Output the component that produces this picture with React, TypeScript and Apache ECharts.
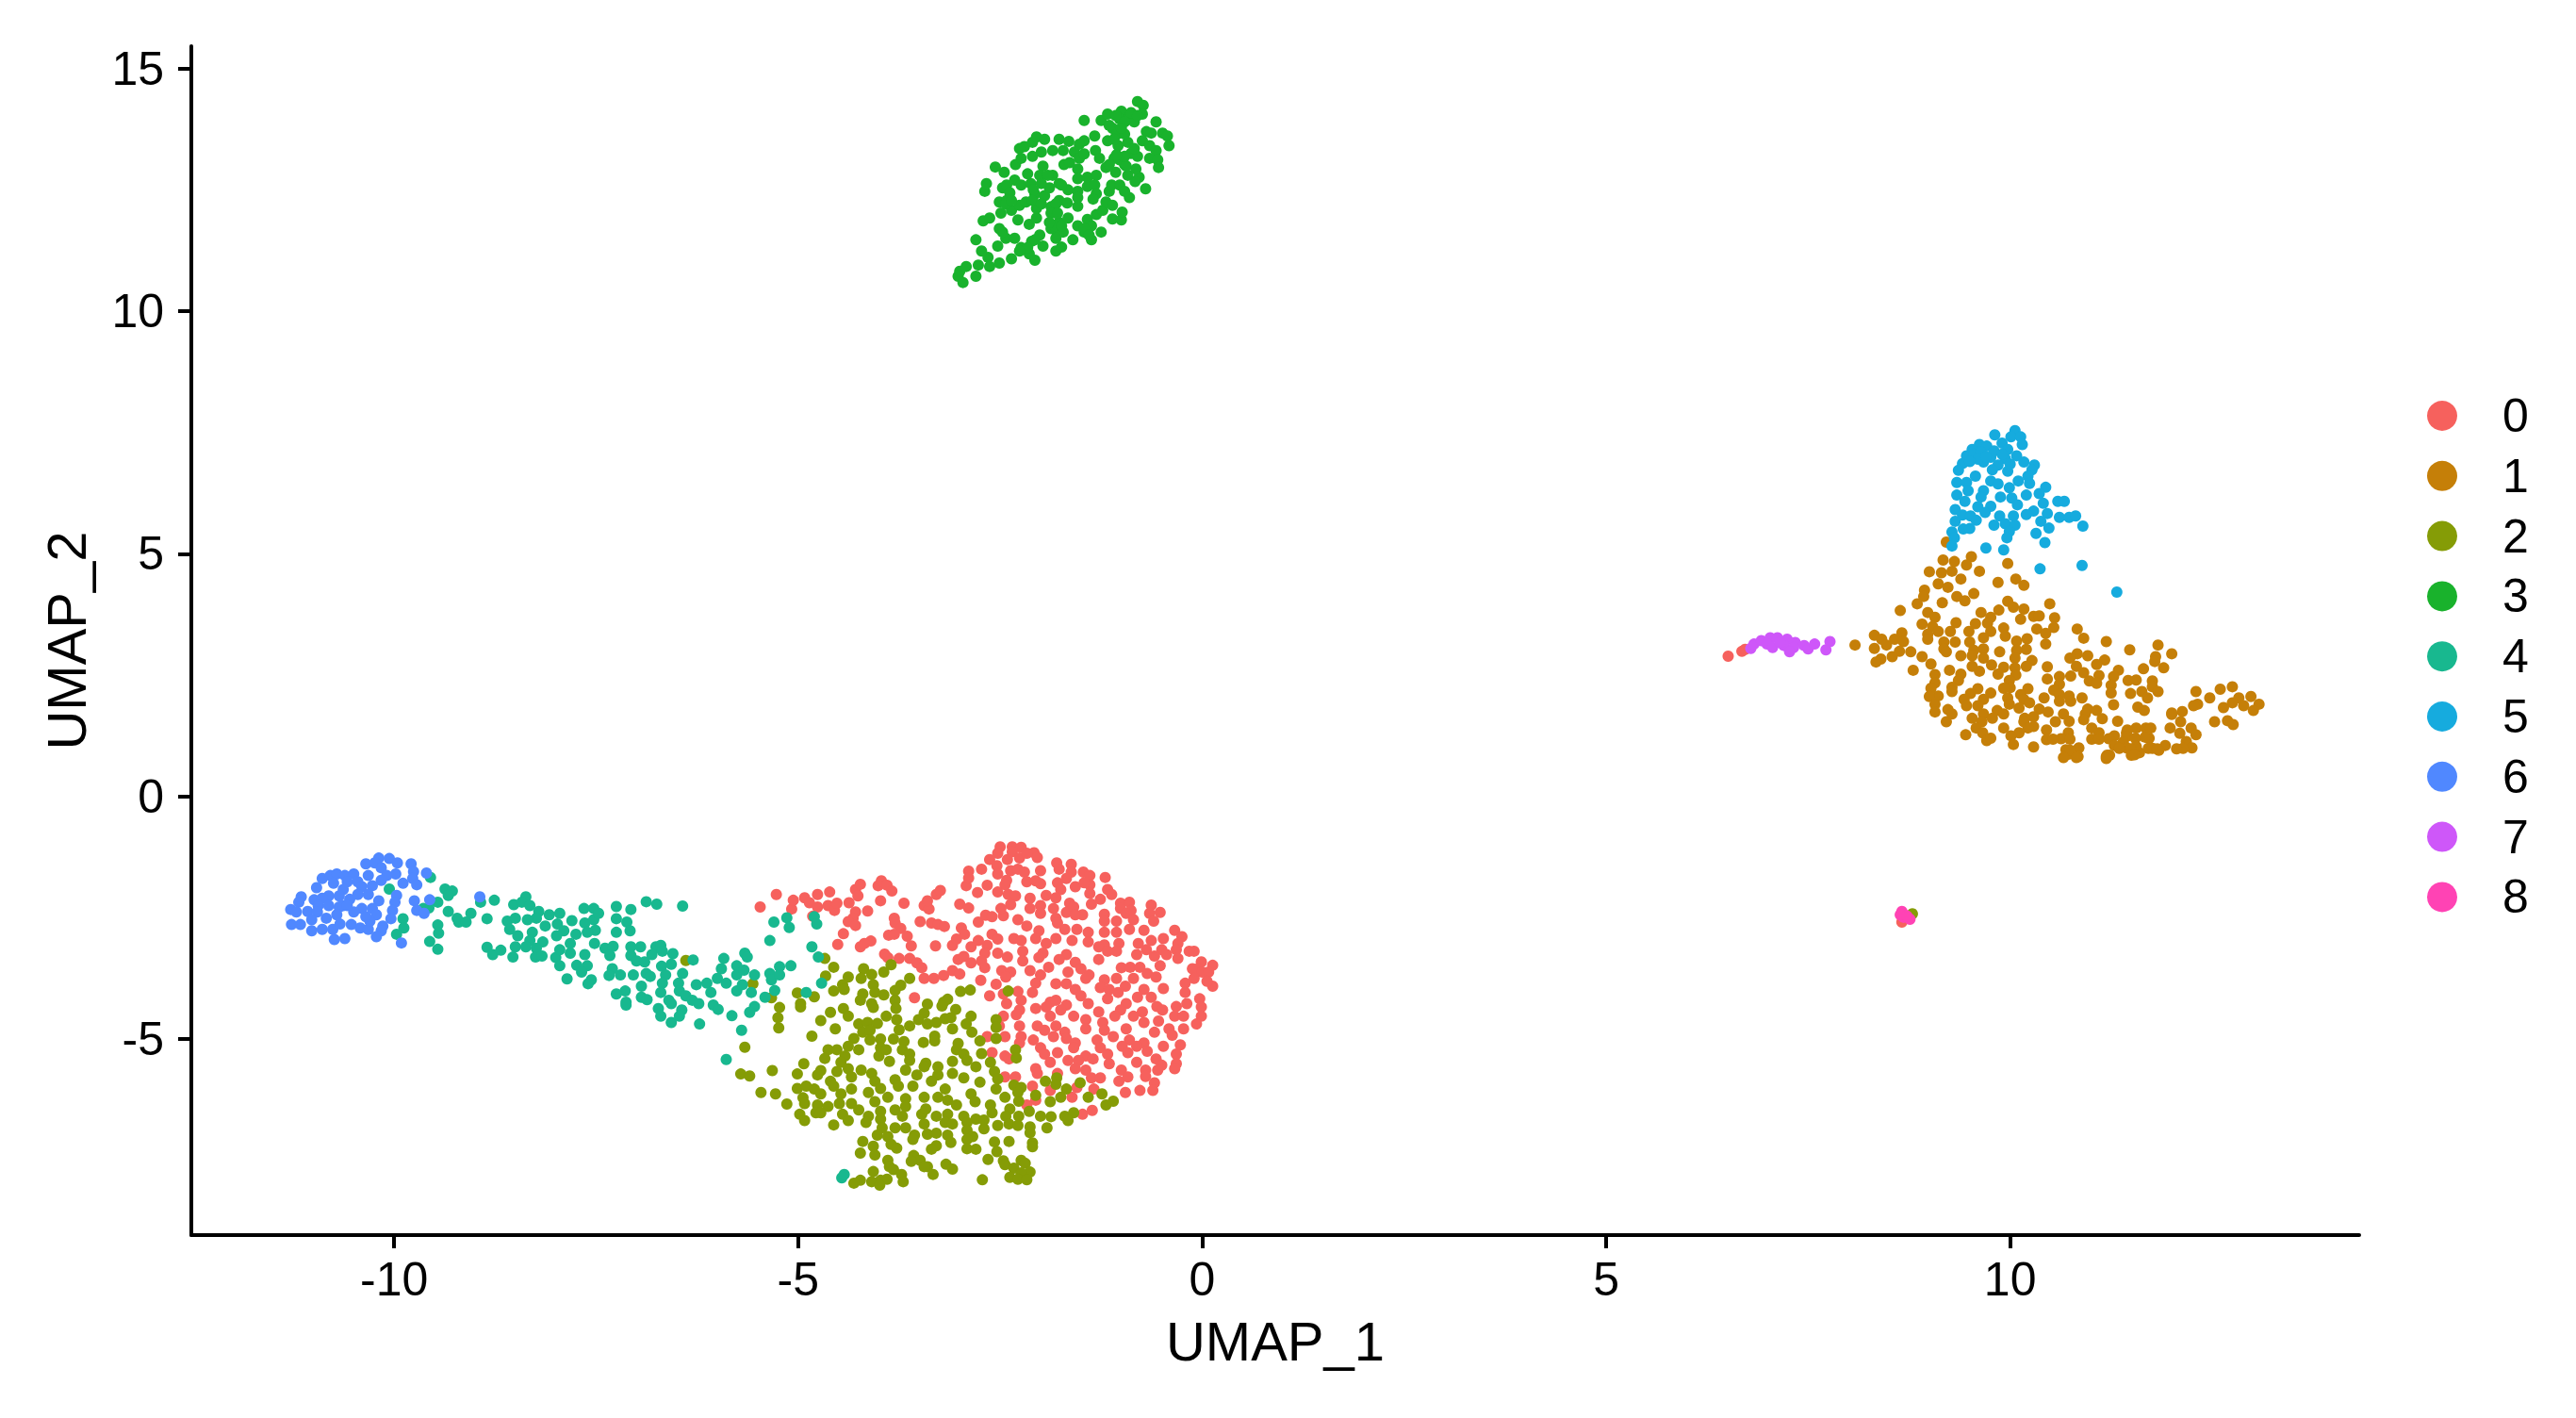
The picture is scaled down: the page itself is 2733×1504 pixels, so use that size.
import React, { useEffect, useRef } from "react";
import * as echarts from "echarts";

const clusterNames = ["0", "1", "2", "3", "4", "5", "6", "7", "8"];
const clusterColors = ["#F6615D", "#C57F08", "#859C06", "#19B22C", "#18B88F", "#16ABDE", "#5088FF", "#CE57F9", "#FF43B4"];
const xTicks = [-10, -5, 0, 5, 10];
const yTicks = [-5, 0, 5, 10, 15];

const cluster0 = [
[-5.47,-2.28],[-5.27,-2.02],[-5.08,-2.32],[-5.06,-2.14],[-4.92,-2.09],[-4.76,-2.02],[-4.61,-1.97],[-4.82,-2.47],[-4.86,-2.19],[-4.76,-2.28],[-4.63,-2.25],[-4.55,-2.35],[-4.52,-2.2],[-4.37,-2.19],[-4.29,-1.92],[-4.23,-1.81],[-4.26,-2.05],[-4.29,-2.38],[-4.32,-2.51],[-4.38,-2.58],[-4.29,-2.66],[-4.14,-2.36],[-4.44,-2.83],[-4.51,-3.05],[-4.23,-3.1],[-4.1,-2.98],[-4.18,-3.03],[-4.01,-1.84],[-3.97,-1.74],[-3.9,-1.83],[-3.84,-1.95],[-3.98,-2.15],[-3.69,-2.2],[-3.81,-2.51],[-3.8,-2.61],[-3.73,-2.72],[-3.88,-2.86],[-3.81,-2.84],[-3.65,-2.88],[-3.6,-3.08],[-3.93,-3.25],[-3.89,-3.32],[-3.75,-3.34],[-3.62,-3.34],[-3.53,-3.43],[-3.47,-3.53],[-3.44,-3.75],[-3.32,-3.75],[-3.2,-3.69],[-3.09,-3.59],[-3.0,-3.66],[-3.56,-4.15],
[-3.44,-2.25],[-3.38,-2.32],[-3.4,-2.15],[-3.49,-2.58],[-3.35,-2.61],[-3.27,-2.64],[-3.19,-2.68],[-3.29,-2.02],[-3.24,-1.94],[-3.3,-3.08],[-3.09,-3.07],[-3.04,-2.94],[-2.98,-2.71],[-2.94,-2.84],[-3.0,-2.22],[-2.89,-2.3],[-2.92,-1.84],[-2.89,-1.54],[-2.89,-1.68],[-2.73,-1.5],[-2.78,-1.98],[-2.66,-1.83],[-2.77,-2.59],[-2.68,-2.45],[-2.6,-2.48],[-2.46,-2.46],[-2.86,-3.1],[-2.77,-2.97],[-2.6,-2.84],[-2.53,-2.94],[-2.66,-3.07],[-2.69,-3.23],[-2.53,-3.23],[-2.41,-3.31],[-3.02,-3.36],[-2.95,-3.3],[-2.86,-3.43],[-2.73,-3.39],[-2.69,-3.53],[-2.74,-3.79],[-2.55,-3.87],[-2.48,-3.59],[-2.37,-3.62],[-2.43,-3.72],[-2.63,-4.11],[-2.46,-4.07],[-2.28,-4.02],
[6.51,2.89],[6.68,2.99],[6.72,3.03],[8.66,-2.59],
[-2.5,-1.04],[-2.35,-1.04],[-2.24,-1.05],[-2.53,-1.17],[-2.35,-1.14],[-2.08,-1.16],[-2.63,-1.3],[-2.41,-1.3],[-2.26,-1.27],[-2.04,-1.26],[-2.17,-1.17],
[-2.54,-1.43],[-2.53,-1.6],[-2.37,-1.53],[-2.28,-1.5],[-2.2,-1.56],[-2.42,-1.73],[-2.44,-1.82],[-2.17,-1.76],[-2.06,-1.74],[-2.0,-1.8],[-2.0,-1.53],[-1.8,-1.37],[-1.77,-1.5],[-1.62,-1.4],[-1.62,-1.56],[-1.47,-1.56],[-1.39,-1.63],[-1.2,-1.67],[-1.68,-1.69],[-1.79,-1.78],[-1.75,-1.92],[-1.57,-1.86],[-1.39,-1.82],[-1.46,-1.78],
[-2.53,-1.97],[-2.4,-2.02],[-2.31,-2.05],[-2.13,-2.1],[-1.93,-2.04],[-1.81,-2.09],[-1.39,-2.0],[-1.17,-1.92],[-1.12,-2.02],[-1.26,-2.12],[-1.37,-2.22],[-1.64,-2.2],[-1.01,-2.2],[-0.9,-2.18],[-0.63,-2.24],[-2.0,-2.25],[-1.84,-2.31],[-2.37,-2.23],[-2.13,-2.31],[-1.01,-2.31],
[-2.49,-2.31],[-1.68,-2.39],[-1.59,-2.28],[-1.48,-2.44],[-1.57,-2.44],[-1.21,-2.43],[-0.88,-2.35],[-0.94,-2.41],[-0.65,-2.41],[-0.52,-2.39],[-2.28,-2.54],[-2.0,-2.41],[-1.81,-2.51],[-1.21,-2.57],[-1.06,-2.57],[-0.85,-2.54],[-0.6,-2.57],[-1.79,-2.61],
[-2.17,-2.67],[-2.02,-2.77],[-1.7,-2.74],[-1.55,-2.74],[-1.21,-2.8],[-1.06,-2.8],[-0.9,-2.74],[-0.72,-2.76],[-1.41,-2.8],[-0.34,-2.76],[-0.25,-2.89],[-0.48,-2.93],[-0.63,-2.97],[-2.33,-2.93],[-2.24,-2.97],[-2.06,-2.93],
[-1.81,-2.93],[-1.93,-3.03],[-1.61,-2.97],[-1.41,-3.0],[-1.21,-3.06],[-1.03,-3.03],[-0.79,-3.03],[-0.3,-3.03],[-0.69,-3.16],[-0.5,-3.16],[-0.32,-3.16],[-0.16,-3.19],[-0.1,-3.19],[-1.97,-3.23],[-2.22,-3.19],[-1.68,-3.26],[-1.28,-3.1],[-1.17,-3.19],[-1.06,-3.19],[-0.81,-3.26],[-0.59,-3.29],[-0.44,-3.26],
[-2.02,-3.32],[-2.22,-3.39],[-1.77,-3.36],[-1.57,-3.42],[-1.28,-3.36],[-0.3,-3.34],[-0.01,-3.41],[0.13,-3.48],[-1.9,-3.52],[-2.13,-3.59],[-1.5,-3.55],[-0.05,-3.55],[-1.0,-3.53],[-0.89,-3.52],[-0.77,-3.52],[-0.52,-3.49],[-0.12,-3.55],[0.0,-3.62],[0.08,-3.62],[-1.66,-3.62],[-1.4,-3.68],[-2.0,-3.68],[-0.68,-3.65],
[-1.44,-3.75],[-2.06,-3.85],[-1.81,-3.86],[-1.68,-3.86],[-1.21,-3.78],[-1.06,-3.75],[-0.85,-3.75],[-0.57,-3.72],[-0.1,-3.75],[-0.21,-3.85],[0.13,-3.91],[0.06,-3.81],[-1.57,-3.98],[-1.26,-3.94],[-1.15,-3.98],[-0.95,-3.91],[-0.72,-3.98],[-0.48,-3.96],[-2.1,-4.04],[-1.04,-4.04],[-0.21,-4.04],
[-2.24,-4.2],[-1.88,-4.24],[-1.81,-4.2],[-1.5,-4.11],[-1.17,-4.17],[-0.8,-4.14],[-0.63,-4.14],[-0.03,-4.17],[-1.93,-4.34],[-1.68,-4.3],[-1.41,-4.27],[-0.94,-4.27],[-0.56,-4.33],[-0.32,-4.33],[-0.19,-4.27],[-2.42,-4.27],[-2.06,-4.37],[-2.26,-4.4],[-1.75,-4.4],[-1.28,-4.44],[-1.01,-4.4],[-0.74,-4.44],[-0.49,-4.4],[-0.01,-4.34],
[-2.46,-4.53],[-2.3,-4.5],[-1.88,-4.53],[-1.59,-4.53],[-1.44,-4.6],[-1.08,-4.53],[-0.85,-4.53],[-0.34,-4.53],[-0.23,-4.53],[-0.01,-4.53],[-2.51,-4.73],[-2.26,-4.73],[-2.04,-4.73],[-1.81,-4.73],[-1.23,-4.66],[-0.54,-4.63],[-0.72,-4.66],[-0.07,-4.69],[-1.7,-4.86],[-1.44,-4.79],[-1.21,-4.82],[-0.94,-4.79],[-0.59,-4.86],[-0.41,-4.79],[-0.23,-4.79],[-1.95,-4.82],
[-2.44,-4.95],[-2.24,-4.95],[-2.09,-5.02],[-1.84,-4.95],[-1.68,-4.99],[-1.57,-5.08],[-1.3,-5.02],[-1.1,-4.95],[-0.9,-5.02],[-0.37,-4.92],[-0.72,-5.08],[-0.48,-5.15],[-0.27,-5.12],[-2.44,-5.35],[-2.66,-4.95],[-2.26,-5.08],[-2.0,-5.18],[-1.59,-5.18],[-1.26,-5.18],[-0.99,-5.15],[-0.81,-5.15],[-0.68,-5.25],
[-2.6,-5.28],[-1.95,-5.31],[-1.79,-5.28],[-1.44,-5.35],[-1.17,-5.31],[-0.92,-5.28],[-0.32,-5.31],[-2.39,-5.41],[-1.88,-5.48],[-1.66,-5.44],[-1.53,-5.44],[-1.35,-5.41],[-1.15,-5.51],[-0.57,-5.41],[-0.81,-5.48],[-0.32,-5.51],[-0.5,-5.54],[-2.06,-5.61],[-1.57,-5.61],[-1.44,-5.64],[-1.0,-5.64],[-0.7,-5.64],[-0.34,-5.61],[-0.55,-5.64],
[-2.44,-5.78],[-2.31,-5.78],[-2.04,-5.71],[-1.79,-5.71],[-1.37,-5.8],[-1.26,-5.8],[-1.03,-5.87],[-0.92,-5.78],[-0.7,-5.77],[-2.1,-5.97],[-1.88,-6.06],[-1.55,-6.0],[-1.34,-6.03],[-0.59,-5.9],[-0.95,-6.1],[-0.61,-6.06],[-0.77,-6.06],[-1.61,-6.2],[-2.06,-6.26],[-2.17,-6.36],[-1.48,-6.55],[-1.36,-6.47]
];

const cluster1 = [
[9.21,5.24],[9.52,4.94],[9.17,4.87],[9.31,4.84],[9.46,4.77],[9.0,4.63],[9.15,4.61],[9.28,4.64],[9.62,4.64],[9.97,4.8],[9.11,4.38],[9.23,4.31],[9.39,4.48],[9.85,4.41],[10.07,4.48],[10.17,4.35],[8.94,4.25],[8.93,4.12],[9.34,4.12],[9.44,4.03],[9.55,4.18],[9.16,3.99],[8.85,3.97],[8.64,3.83],[9.97,4.02],[10.04,3.9],[10.49,3.97],[10.17,3.86],[9.86,3.84],[9.64,3.79],[8.98,3.79],[9.07,3.69],[9.76,3.69],[10.13,3.65],[10.29,3.71],[10.36,3.72],[10.55,3.68],[8.91,3.55],[9.33,3.58],[9.04,3.5],[9.72,3.57],[9.57,3.56],[10.83,3.45],[10.54,3.48],[10.33,3.45],[9.92,3.47],[9.76,3.4],[9.11,3.4],[9.49,3.4],[9.26,3.4],[8.98,3.34],[8.32,3.32],[8.66,3.37],[10.44,3.36],[9.67,3.27],[9.94,3.3],[10.91,3.26],[8.98,3.24],[10.21,3.25],[8.57,3.24],[8.41,3.24],[8.68,3.19],[10.08,3.2],[9.5,3.18],[11.19,3.19],[9.32,3.18],[9.18,3.18],[8.47,3.12],[10.44,3.14],[8.08,3.12],[8.32,3.05],[11.83,3.12],[11.48,3.02],[9.18,3.04],[9.55,3.01],[9.67,3.04],[9.87,2.98],[10.2,3.03],[10.08,3.01],[8.77,2.98],[8.63,2.99],[12.0,2.94],[9.21,2.98],[9.39,2.9],[9.53,2.9],[8.54,2.88],[8.91,2.88],[10.96,2.9],[10.83,2.94],[11.8,2.88],[8.4,2.83],[8.34,2.77],[9.67,2.85],[10.06,2.85],[10.27,2.8],[10.74,2.85],[11.17,2.81],[9.02,2.73],[11.79,2.78],[9.77,2.71],[9.53,2.68],[10.06,2.65],[10.2,2.68],[10.46,2.67],[10.82,2.68],[11.07,2.72],[8.8,2.6],[9.92,2.66],[11.65,2.63],[11.9,2.65],[11.34,2.6],[9.25,2.6],[9.62,2.58],[9.39,2.52],[9.85,2.52],[9.07,2.51],[10.91,2.55],[10.61,2.47],[11.1,2.49],[10.07,2.5],[10.75,2.48],[11.28,2.47],[10.46,2.42],[9.36,2.39],[9.99,2.39],[9.07,2.34],[10.98,2.38],[11.46,2.39],[11.56,2.4],[11.76,2.38],[10.61,2.31],[11.07,2.33],[9.28,2.25],[10.0,2.24],[10.22,2.22],[10.54,2.19],[11.25,2.29],[11.76,2.26],[9.02,2.23],[9.28,2.16],[9.6,2.22],[9.92,2.23],[12.75,2.26],[12.6,2.21],[12.3,2.16],[11.83,2.16],[11.63,2.16],[11.49,2.12],[11.25,2.13],[9.11,2.07],[9,2.06],[9.51,2.12],[9.76,2.13],[10.13,2.1],[10.73,2.07],[10.61,2.1],[11.7,2.03],[9.43,2.0],[9.67,2.0],[9.97,2.03],[10.17,2.0],[10.42,2.03],[10.89,2.03],[12.98,2.06],[12.47,2.03],[12.83,2.03],[9.07,1.9],[9.46,1.87],[9.6,1.87],[9.99,1.9],[10.24,1.93],[10.61,1.96],[10.75,1.96],[11.28,1.89],[12.75,1.93],[12.32,1.9],[13.08,1.9],[12.27,1.87],[12.89,1.87],[12.64,1.83],[9.23,1.79],[9.84,1.77],[10.11,1.82],[10.36,1.8],[10.96,1.8],[11.58,1.84],[13.01,1.77],[11.66,1.77],[12.0,1.69],[12.13,1.75],[11.07,1.77],[10.93,1.7],[9.07,1.74],[9.28,1.7],[9.67,1.7],[9.92,1.7],[10.47,1.74],[10.66,1.7],[12.0,1.72],[9.53,1.61],[9.78,1.61],[10.18,1.61],[10.29,1.64],[10.73,1.55],[11.14,1.6],[11.33,1.55],[12.53,1.54],[12.69,1.56],[10.91,1.58],[9.21,1.54],[9.65,1.54],[10.17,1.54],[10.56,1.54],[12.11,1.54],[10.29,1.44],[11.01,1.41],[11.56,1.41],[11.68,1.41],[11.98,1.41],[12.76,1.48],[9.58,1.41],[9.92,1.41],[10.22,1.41],[11.45,1.37],[11.74,1.41],[12.24,1.41],[10.45,1.37],[9.66,1.31],[10.11,1.31],[11.44,1.31],[11.1,1.31],[12.1,1.3],[11.72,1.2],[9.45,1.27],[10.01,1.25],[10.72,1.31],[11.44,1.24],[11.29,1.25],[12.3,1.27],[9.71,1.15],[9.76,1.2],[10.63,1.19],[10.45,1.17],[11.22,1.19],[11.55,1.2],[10.74,1.18],[11.01,1.18],[11.67,1.22],[11.1,1.18],[11.4,1.12],[10.53,1.18],[12.18,1.13],[11.71,0.99],[11.6,0.9],[12.25,1.0],[11.29,1.05],[11.76,0.99],[12.14,0.99],[11.92,1.05],[10.04,1.07],[10.29,1.02],[11.44,1.0],[11.35,0.99],[10.85,1.0],[11.84,0.95],[11.56,1.03],[12.06,0.98],[11.49,0.98],[10.69,0.96],[11.82,0.98],[10.72,0.87],[10.74,0.95],[11.5,0.85],[10.84,0.82],[11.19,0.82],[11.23,0.85],[11.2,0.85],[11.54,0.86],[10.66,0.8],[10.82,0.8],[11.19,0.78]
];

const cluster2 = [
[-6.39,-3.38],[-5.56,-3.86],[-5.33,-4.15],[-5.23,-4.35],[-5.25,-4.56],[-5.24,-4.77],[-5.66,-5.17],[-5.71,-5.72],[-5.6,-5.76],[-5.32,-5.65],[-5.46,-6.1],[-5.28,-6.13],[-5.14,-6.34],[-5.01,-4.05],[-4.97,-4.27],[-4.97,-4.34],[-4.8,-4.13],[-4.83,-4.94],[-4.72,-4.62],[-4.6,-4.45],[-4.54,-4.79],[-4.44,-4.37],[-4.38,-4.53],[-4.67,-3.34],[-4.56,-3.52],[-4.66,-3.7],[-4.93,-5.51],[-5.01,-5.72],[-5.01,-6.02],[8.79,-2.42],
[-4.19,-3.55],[-4.09,-3.67],[-3.94,-3.62],[-3.85,-3.47],[-3.62,-3.75],[-4.38,-3.72],[-4.22,-3.75],[-4.45,-3.88],[-4.56,-4.01],[-4.43,-3.98],[-4.07,-3.88],[-3.73,-3.89],[-3.8,-4],[-4.2,-4.07],[-4.05,-4.04],[-3.94,-4.09],
[-4.23,-4.2],[-4.09,-4.27],[-4.07,-4.35],[-3.8,-4.2],[-3.79,-4.37],[-3.4,-4.28],[-3.2,-4.24],[-3.15,-4.18],[-3.22,-4.32],[-2.99,-4.02],[-2.87,-3.99],[-3.05,-4.39],[-2.4,-4.01],[-3.44,-4.47],
[-3.91,-4.53],[-3.78,-4.6],[-3.51,-4.6],[-4.25,-4.69],[-4.14,-4.66],[-4.02,-4.68],[-3.62,-4.73],[-3.4,-4.69],[-3.29,-4.66],[-3.18,-4.58],[-3.11,-4.56],[-2.86,-4.53],[-2.92,-4.69],[-2.55,-4.6],[-2.55,-4.76],[-4.2,-4.86],[-4.11,-4.82],[-3.75,-4.81],[-3.09,-4.79],[-2.85,-4.86],
[-4.31,-4.99],[-4.11,-5.02],[-3.98,-5],[-3.82,-5],[-3.69,-5.05],[-3.31,-4.94],[-3.31,-5.04],[-3.45,-5.07],[-2.75,-5.04],[-2.55,-4.99],[-4.38,-5.15],[-4.63,-5.22],[-4.52,-5.22],[-4.25,-5.22],[-3.98,-5.18],[-3.71,-5.22],[-3.02,-5.09],[-3.04,-5.22],[-2.31,-5.22],
[-4.67,-5.4],[-4.42,-5.35],[-4,-5.35],[-3.91,-5.22],[-3.62,-5.31],[-2.95,-5.31],[-3.09,-5.46],[-2.91,-5.44],[-2.73,-5.3],[-2.3,-5.39],[-4.47,-5.48],[-3.87,-5.46],[-3.62,-5.44],[-3.42,-5.5],[-3.27,-5.57],[-2.8,-5.57],[-2.62,-5.48],[-4.38,-5.61],[-4.22,-5.64],[-3.67,-5.64],[-3.44,-5.57],
[-4.72,-5.65],[-4.76,-5.74],[-4.52,-5.67],[-4.09,-5.71],[-4.34,-5.78],[-3.8,-5.84],[-3.53,-5.74],[-3.27,-5.74],[-3.09,-5.71],[-2.57,-5.67],[-4.6,-5.87],[-4.05,-5.87],[-3.35,-5.87],[-2.95,-5.8],[-2.75,-5.89],[-2.53,-5.82],[-4.9,-5.97],[-4.8,-6.03],[-4.56,-5.97],[-4.34,-6.03],[-3.98,-6.02],[-3.76,-5.97],[-3.58,-5.97],[-3.18,-6.03],[-2.55,-6.03],[-2.33,-5.95],[-2.24,-6],
[-1.94,-5.87],[-1.8,-5.8],[-1.51,-5.9],[-1.68,-6.03],[-1.81,-5.93],
[-4.94,-6.21],[-4.72,-6.13],[-4.47,-6.13],[-4.13,-6.1],[-3.89,-6.2],[-3.67,-6.23],[-3.44,-6.2],[-3.27,-6.2],[-2.86,-6.13],[-2.44,-6.2],[-2.28,-6.1],[-2.06,-6.16],[-1.75,-6.2],[-1.41,-6.2],[-1.24,-6.13],[-4.92,-6.33],[-4.76,-6.36],[-4.63,-6.39],[-4.49,-6.33],[-4.34,-6.33],[-4.05,-6.29],[-3.67,-6.39],[-3.15,-6.26],[-3.04,-6.36],[-2.81,-6.29],[-2.62,-6.36],[-2.27,-6.28],[-1.88,-6.29],[-1.1,-6.28],[-1.19,-6.36],
[-4.98,-6.55],[-4.92,-6.68],[-4.78,-6.52],[-4.72,-6.52],[-4.45,-6.55],[-4.38,-6.68],[-4.25,-6.46],[-4.13,-6.59],[-4.16,-6.72],[-3.98,-6.49],[-3.8,-6.46],[-3.71,-6.59],[-3.47,-6.55],[-3.42,-6.44],[-3.29,-6.59],[-3.15,-6.55],[-2.95,-6.59],[-2.8,-6.65],[-2.6,-6.52],[-2.38,-6.44],[-2.43,-6.59],[-2.27,-6.59],[-2.14,-6.49],[-2,-6.59],[-1.87,-6.6],[-1.7,-6.59],[-1.59,-6.52],[-1.66,-6.68],[-4.56,-6.77],[-3.98,-6.65],[-3.44,-6.75],[-3.18,-6.72],[-2.91,-6.72],[-2.7,-6.67],[-2.53,-6.78],[-2.39,-6.75],[-2.28,-6.78],[-3.09,-6.75],[-2.13,-6.81],[-1.92,-6.83],
[-3.96,-6.83],[-3.8,-6.83],[-3.67,-6.83],[-3.56,-6.98],[-3.4,-6.96],[-3.29,-6.94],[-3.15,-6.98],[-2.91,-6.88],[-2.84,-7.01],[-2.7,-6.85],[-2.13,-6.93],[-4.02,-6.98],[-3.89,-7.01],[-3.58,-7.07],[-3.11,-7.13],[-2.91,-7.07],[-4.2,-7.11],[-3.85,-7.17],[-2.57,-7.12],[-2.39,-7.11],[-2.1,-7.14],[-4.07,-7.21],[-3.29,-7.2],
[-3.78,-7.25],[-3.35,-7.27],[-2.91,-7.26],[-2.8,-7.27],[-2.1,-7.22],[-4.23,-7.35],[-4.05,-7.39],[-2.54,-7.32],[-3.57,-7.4],[-3.49,-7.5],[-3.89,-7.5],[-3.6,-7.52],[-2.65,-7.48],[-2.46,-7.51],[-2.24,-7.5],[-2.19,-7.56],[-3.87,-7.63],[-3.4,-7.63],[-3.17,-7.58],[-3.09,-7.68],[-2.44,-7.59],[-3.44,-7.63],[-2.33,-7.66],[-4.07,-7.73],[-3.82,-7.69],[-3.72,-7.79],[-3.33,-7.79],[-2.13,-7.74],[-2.24,-7.76],[-2.38,-7.85],[-3.98,-7.91],[-4.23,-7.91],[-4.31,-7.97],[-4.09,-7.94],[-3.9,-7.89],[-3.7,-7.94],[-3.99,-8.01],[-2.72,-7.9],[-2.28,-7.89],[-2.17,-7.9]
];

const cluster3 = [
[-3.02,10.72],[-2.96,10.59],[-3.0,10.82],[-2.92,10.92],[-2.8,10.72],[-2.77,10.95],[-2.65,11.11],[-2.73,11.24],[-2.8,11.47],[-2.63,10.92],[-2.51,10.99],[-2.53,11.34],[-2.43,11.5],[-2.32,11.5],[-2.36,11.08],[-2.24,11.31],[-2.14,11.18],[-2.07,11.05],[-2.11,11.44],[-2.01,11.57],[-1.97,11.34],[-1.81,11.24],[-1.74,11.32],[-1.6,11.47],[-1.79,11.6],[-1.72,11.63],[-1.87,11.7],[-1.54,11.76],[-1.42,11.89],[-1.46,11.63],[-1.37,11.47],[-1.25,11.63],[-1.37,11.76],
[-2.51,11.7],[-2.47,11.63],[-2.71,11.86],[-2.63,11.92],[-2.49,12.02],[-2.28,11.88],[-2.14,11.79],[-2.05,11.92],[-1.77,11.83],[-1.66,11.92],[-2.51,12.25],[-2.36,12.08],[-2.42,12.28],[-2.26,12.18],[-2.18,12.25],[-2.05,12.12],[-1.87,12.15],[-1.81,12.02],[-1.77,12.28],[-1.67,12.23],[-1.54,12.16],[-1.31,11.99],[-1.23,12.08],[-1.19,12.25],[-1.11,11.9],[-1.0,11.88],[-0.99,12.04],[-1.11,12.18],[-0.9,12.34],[-1.15,12.47],[-1.12,12.6],[-1.02,12.6],[-0.96,12.47],[-0.7,12.52],[-0.92,12.8],[-0.78,12.76],[-0.83,12.67],[-0.82,12.93],
[-2.47,12.54],[-2.42,12.6],[-2.38,12.44],[-2.32,12.7],[-2.24,12.6],[-2.12,12.63],[-2.16,12.83],[-2.07,12.41],[-1.95,12.38],[-1.89,12.54],[-2.69,12.47],[-2.67,12.63],[-2.56,12.97],[-2.45,12.86],[-2.31,13.02],[-2.24,13.15],[-2.2,13.39],[-2.26,13.35],[-2.1,13.48],[-2.05,13.59],[-1.95,13.54],[-1.99,13.28],[-1.85,13.31],[-2.1,13.19],[-1.97,12.99],[-2.01,12.8],[-1.85,12.8],[-1.77,12.63],[-1.71,13.02],[-1.77,13.54],[-1.65,13.5],[-1.72,13.31],[-1.58,13.28],[-1.46,13.51],[-1.52,13.44],[-1.52,13.15],[-1.46,13.24],[-1.64,13.06],[-1.54,12.93],[-1.54,12.73],[-1.42,12.76],[-1.31,12.8],[-1.66,12.5],[-1.54,12.47],[-1.42,12.57],[-1.33,12.6],[-1.31,12.42],[-1.35,12.31],[-1.54,12.34],
[-1.33,13.61],[-1.32,13.31],[-1.27,13.15],[-1.19,12.96],[-1.07,12.86],[-1.02,13.12],[-0.96,13.02],[-0.88,13.25],[-0.92,13.48],[-1.04,13.41],[-1.17,13.51],[-1.11,13.77],[-1.06,13.64],[-0.96,13.65],[-1.25,13.93],[-1.46,13.93],[-1.17,14.06],[-1.0,14.12],[-0.92,13.96],[-1.02,13.96],[-0.8,14.32],[-0.73,14.24],[-0.74,14.06],[-0.84,13.9],[-0.57,13.9],[-0.69,13.7],[-0.63,13.67],[-0.49,13.67],[-0.43,13.61],[-0.41,13.41],[-0.74,13.51],[-0.65,13.41],[-0.57,13.31],[-0.65,13.15],[-0.55,13.12],[-0.54,12.96],[-0.8,13.19],[-0.94,12.99],[-1.09,13.15],
[-1.07,14.03],[-0.96,13.9],[-0.88,14.09],[-0.8,14.03],[-1.15,13.83],[-1.0,13.77],[-1.09,13.54],[-0.96,13.19],[-1.06,13.22],[-1.15,13.02],[-0.84,13.35],[-1.81,12.21],[-1.87,12.02],[-1.74,12.6],[-1.91,12.8],[-1.99,12.63],[-2.09,12.5],[-2.1,12.28],[-1.99,12.21],[-2.43,12.21],[-2.36,12.28],[-2.16,11.31],[-2.07,11.47],[-2.26,11.24],[-1.83,11.76],[-1.81,11.5],[-1.89,11.83],[-1.74,11.76],[-1.79,12.02],[-1.46,11.7],[-1.4,11.57]
];

const cluster4 = [
[-9.55,-1.67],[-10.06,-1.91],[-9.89,-2.52],[-9.88,-2.71],[-9.97,-2.84],[-9.37,-1.91],[-9.28,-1.95],[-9.33,-2.04],[-9.46,-2.18],[-9.57,-2.3],[-9.64,-2.31],[-9.33,-2.37],[-9.46,-2.65],[-9.45,-2.82],[-9.56,-2.99],[-9.46,-3.15],[-8.93,-2.18],[-8.76,-2.14],[-9.05,-2.41],[-9.22,-2.51],[-9.2,-2.59],[-9.11,-2.59],[-8.85,-2.52],[-8.85,-3.11],[-8.78,-3.26],[-8.68,-3.17],[-8.53,-3.31],[-8.52,-2.23],[-8.37,-2.07],[-8.42,-2.18],[-8.32,-2.25],[-8.21,-2.37],[-8.08,-2.44],[-7.95,-2.41],[-8.24,-2.51],[-8.35,-2.54],[-8.6,-2.57],[-8.5,-2.51],[-8.57,-2.74],[-8.47,-2.87],[-8.13,-2.67],[-7.98,-2.63],[-7.9,-2.77],[-7.99,-2.87],[-8.29,-2.8],[-8.32,-2.97],[-8.16,-3],[-8.5,-3.1],[-8.37,-3.1],[-8.24,-3.13],[-8.25,-3.31],[-8.17,-3.29],[-8.0,-3.32],[-7.95,-3.49],[-7.95,-3.16],[-7.82,-3.03],[-7.82,-3.23],[-7.75,-2.84],[-7.8,-2.56],[-7.64,-2.61],[-7.53,-2.54],[-7.65,-2.31],[-7.53,-2.31],[-7.47,-2.41],[-7.51,-2.76],[-7.61,-2.8],[-7.25,-2.27],[-7.07,-2.33],[-6.88,-2.17],[-6.75,-2.22],[-6.43,-2.26],[-7.25,-2.52],[-7.12,-2.59],[-7.25,-2.8],[-7.08,-2.77],[-7.52,-3.03],[-7.39,-3.13],[-7.29,-3.09],[-7.33,-3.28],[-7.64,-3.26],[-7.74,-3.48],[-7.61,-3.49],[-7.68,-3.62],[-7.86,-3.76],[-7.3,-3.55],[-7.34,-3.69],[-7.07,-3.1],[-6.95,-3.1],[-7.07,-3.28],[-7.0,-3.39],[-6.76,-3.1],[-6.7,-3.07],[-6.81,-3.26],[-6.68,-3.19],[-6.55,-3.24],[-6.9,-3.41],[-6.69,-3.5],[-6.57,-3.46],[-6.3,-3.37],[-7.56,-3.78],[-7.6,-3.86],[-7.2,-3.68],[-7.04,-3.68],[-7.14,-4.01],[-7.25,-4.07],[-7.13,-4.24],[-7.13,-4.3],[-6.88,-3.65],[-6.83,-3.71],[-6.64,-3.68],[-6.94,-3.91],[-6.68,-3.85],[-6.43,-3.65],[-6.48,-3.85],[-6.94,-4.14],[-6.87,-4.19],[-6.7,-4.04],[-6.6,-4.2],[-6.73,-4.37],[-6.7,-4.53],[-6.57,-4.66],[-6.44,-4.4],[-6.47,-4.53],[-6.57,-4.27],[-6.47,-4.01],[-6.39,-4.11],[-6.31,-4.2],[-6.23,-4.27],[-6.26,-3.88],[-6.13,-3.85],[-6.08,-4.04],[-6.05,-4.3],[-5.99,-4.39],[-6.22,-4.69],[-5.92,-3.34],[-5.95,-3.55],[-6,-3.75],[-5.89,-3.85],[-5.76,-3.49],[-5.66,-3.23],[-5.63,-3.31],[-5.76,-3.68],[-5.67,-3.58],[-5.54,-3.68],[-5.76,-4.01],[-5.69,-3.88],[-5.58,-4.04],[-5.54,-4.33],[-5.6,-4.45],[-5.82,-4.52],[-5.7,-4.82],[-5.89,-5.42],[-5.41,-4.14],[-5.35,-3.65],[-5.23,-3.51],[-5.33,-3.78],[-5.23,-3.68],[-5.29,-4],[-5.09,-3.49],[-5.35,-2.97],[-5.3,-2.59],[-5.14,-2.5],[-5.11,-2.7],[-4.83,-3.1],[-4.75,-3.31],[-4.71,-3.85],[-4.9,-4.04],[-4.8,-2.48],[-4.77,-2.63],[-4.46,-7.86],[-4.43,-7.79]
];

const cluster5 = [
[9.81,7.45],[10.06,7.54],[10.01,7.41],[10.13,7.41],[10.15,7.25],[9.62,7.25],[9.53,7.15],[9.46,7.02],[9.71,7.22],[9.9,7.28],[9.97,7.15],[10.08,7.02],[10.17,6.89],[9.41,6.86],[9.36,6.72],[9.55,6.99],[9.76,6.99],[9.94,6.96],[9.67,6.89],[9.85,6.83],[9.78,6.73],[9.97,6.7],[10.3,6.83],[10.27,6.73],[9.57,6.6],[10.22,6.6],[10.1,6.5],[9.76,6.5],[9.85,6.44],[9.34,6.47],[9.46,6.47],[9.99,6.36],[10.24,6.45],[9.48,6.3],[9.67,6.3],[10.44,6.37],[10.36,6.24],[9.88,6.17],[10.02,6.15],[10.2,6.21],[9.34,6.21],[9.64,6.17],[10.41,6.04],[9.44,6.08],[10.59,6.08],[10.67,6.08],[10.09,6.01],[9.32,5.91],[9.76,5.98],[9.6,5.97],[9.69,5.85],[10.29,5.88],[10.2,5.81],[9.41,5.8],[9.51,5.78],[9.58,5.69],[9.87,5.78],[10.04,5.78],[10.46,5.83],[10.61,5.75],[10.73,5.75],[10.81,5.78],[9.32,5.67],[9.8,5.59],[9.94,5.62],[10.06,5.59],[10.38,5.67],[10.9,5.57],[9.42,5.51],[9.5,5.52],[9.28,5.45],[9.99,5.46],[10.48,5.53],[10.32,5.42],[9.31,5.33],[9.96,5.33],[10.43,5.23],[9.28,5.16],[9.7,5.12],[9.92,5.08],[10.37,4.69],[10.89,4.76],[11.32,4.21],
[9.55,7.05],[9.64,7.1],[9.8,7.12],[9.9,7.05],[9.6,6.95],[9.7,7.0],[9.5,6.9],[10.0,6.85]
];

const cluster6 = [
[-11.28,-2.33],[-11.15,-2.07],[-11.18,-2.18],[-11.21,-2.38],[-11.07,-2.37],[-11.27,-2.64],[-11.16,-2.64],[-10.99,-2.13],[-10.89,-1.69],[-10.96,-1.88],[-10.79,-1.63],[-10.71,-1.6],[-10.75,-1.79],[-10.61,-1.63],[-10.5,-1.6],[-10.35,-1.39],[-10.19,-1.27],[-10.24,-1.37],[-10.06,-1.28],[-9.96,-1.37],[-10.16,-1.47],[-10.32,-1.63],[-9.98,-1.6],[-10.09,-1.63],[-10.16,-1.73],[-10.27,-1.84],[-9.89,-1.79],[-9.79,-1.39],[-9.76,-1.55],[-9.77,-1.69],[-9.72,-1.82],[-9.6,-1.58],[-10.58,-1.76],[-10.45,-1.76],[-10.63,-1.92],[-10.68,-2.05],[-10.81,-2.05],[-10.89,-2.1],[-10.94,-2.25],[-10.81,-2.25],[-10.68,-2.28],[-10.55,-2.12],[-10.4,-1.86],[-10.45,-2.02],[-10.32,-2.02],[-10.19,-2.15],[-10.27,-2.31],[-10.4,-2.31],[-10.5,-2.38],[-10.22,-2.44],[-9.97,-2.04],[-9.99,-2.18],[-10.02,-2.35],[-9.75,-2.15],[-9.72,-2.35],[-9.56,-2.13],[-9.63,-2.41],[-10.95,-2.38],[-11.02,-2.54],[-10.84,-2.51],[-11.02,-2.77],[-10.89,-2.74],[-10.76,-2.74],[-10.67,-2.63],[-10.53,-2.64],[-10.42,-2.71],[-10.32,-2.74],[-10.3,-2.57],[-10.04,-2.52],[-10.14,-2.67],[-10.16,-2.77],[-10.22,-2.89],[-10.74,-2.95],[-10.61,-2.93],[-9.91,-3.02],[-8.94,-2.07],[-10.63,-2.25],[-10.58,-2.25],[-10.35,-2.48],[-10.71,-2.44]
];

const cluster7 = [
[6.79,3.05],[6.83,3.14],[6.92,3.21],[7.03,3.27],[7.12,3.27],[7.24,3.24],[7.34,3.17],[6.99,3.14],[7.06,3.07],[7.2,3.11],[7.32,3.07],[7.45,3.11],[7.5,3.04],[7.58,3.14],[7.77,3.19],[7.72,3.02],[7.27,2.98],[7.15,3.17]
];

const cluster8 = [
[8.66,-2.37],[8.76,-2.53],[8.68,-2.49],[8.64,-2.44],[8.72,-2.46]
];

const clusters = [cluster0, cluster1, cluster2, cluster3, cluster4, cluster5, cluster6, cluster7, cluster8];

export default function App() {
  const ref = useRef<HTMLDivElement>(null);
  useEffect(() => {
    const chart = echarts.init(ref.current!, null, { renderer: "svg" });
    const font = "'Liberation Sans', Arial, sans-serif";
    chart.setOption({
      animation: false,
      backgroundColor: "#ffffff",
      grid: { left: 203, top: 49, width: 2300, height: 1261, containLabel: false },
      xAxis: {
        type: "value",
        min: -12.51,
        max: 14.32,
        name: "UMAP_1",
        nameLocation: "middle",
        nameGap: 83,
        nameTextStyle: { color: "#000", fontSize: 58, fontFamily: font },
        splitLine: { show: false },
        axisLine: { show: true, onZero: false, lineStyle: { color: "#000", width: 4 } },
        axisTick: { show: true, length: 14, customValues: xTicks, lineStyle: { color: "#000", width: 4 } },
        axisLabel: { color: "#000", fontSize: 50, fontFamily: font, margin: 22, customValues: xTicks },
      },
      yAxis: {
        type: "value",
        min: -9.04,
        max: 15.46,
        name: "UMAP_2",
        nameLocation: "middle",
        nameGap: 104,
        nameTextStyle: { color: "#000", fontSize: 58, fontFamily: font },
        splitLine: { show: false },
        axisLine: { show: true, onZero: false, lineStyle: { color: "#000", width: 4 } },
        axisTick: { show: true, length: 14, customValues: yTicks, lineStyle: { color: "#000", width: 4 } },
        axisLabel: { color: "#000", fontSize: 50, fontFamily: font, margin: 29, customValues: yTicks },
      },
      legend: {
        show: true,
        orient: "vertical",
        left: 2575,
        top: 416,
        padding: 0,
        icon: "circle",
        itemWidth: 32,
        itemHeight: 32,
        itemGap: 13.8,
        selectedMode: false,
        data: clusterNames,
        textStyle: { color: "#000", fontSize: 50, fontFamily: font, lineHeight: 32, padding: [0, 0, 0, 43] },
      },
      series: clusterNames.map((name, i) => ({
        name,
        type: "scatter",
        data: clusters[i],
        symbol: "circle",
        symbolSize: 12,
        itemStyle: { color: clusterColors[i], opacity: 1 },
        emphasis: { disabled: true },
        large: false,
      })),
    });
    return () => chart.dispose();
  }, []);
  return (
    <div
      ref={ref}
      style={{ position: "fixed", left: 0, top: 0, width: 2733, height: 1504, background: "#fff" }}
    />
  );
}
